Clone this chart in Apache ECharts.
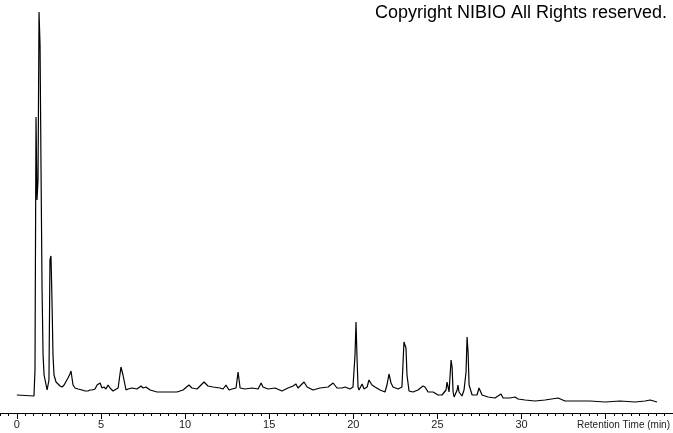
<!DOCTYPE html>
<html>
<head>
<meta charset="utf-8">
<script src="https://cdn.jsdelivr.net/npm/echarts@6/dist/echarts.min.js"></script>
<style>
html,body{margin:0;padding:0;background:#fff;}
#chart{width:673px;height:433px;}
</style>
</head>
<body>
<div id="chart"></div>
<script>
// Retention time (min)
var retentionTime = [0.0,1.02,1.08,1.14,1.20,1.26,1.32,1.38,1.44,1.50,1.56,1.62,1.74,1.80,1.85,1.91,1.97,2.03,2.09,2.15,2.21,2.33,2.45,2.57,2.69,2.81,2.92,3.04,3.16,3.22,3.28,3.34,3.46,3.64,3.88,4.06,4.23,4.35,4.47,4.65,4.77,4.95,5.06,5.18,5.30,5.42,5.54,5.72,6.02,6.19,6.31,6.37,6.49,6.61,6.85,7.14,7.38,7.50,7.68,7.92,8.33,8.69,9.52,9.88,10.23,10.41,10.71,11.13,11.36,11.66,12.08,12.26,12.43,12.61,12.79,13.03,13.15,13.27,13.56,13.98,14.34,14.52,14.63,14.93,15.35,15.76,16.12,16.42,16.59,16.71,17.07,17.25,17.61,18.02,18.50,18.80,19.03,19.33,19.51,19.80,19.98,20.10,20.16,20.22,20.28,20.34,20.52,20.64,20.82,20.93,21.11,21.29,21.59,21.88,22.00,22.12,22.24,22.36,22.66,22.89,23.01,23.13,23.19,23.31,23.55,23.84,24.14,24.26,24.44,24.74,25.04,25.27,25.51,25.57,25.69,25.81,25.87,25.93,25.99,26.17,26.22,26.28,26.46,26.58,26.70,26.76,26.82,26.88,27.06,27.35,27.47,27.65,28.01,28.42,28.78,28.90,29.31,29.61,29.79,30.21,30.80,31.39,32.17,32.58,33.18,34.07,34.97,35.85,36.75,37.34,37.64,38.05];
// Detector response (arbitrary units)
var intensity = [18,17,43,296,213,233,401,368,241,123,58,38,28,23,25,33,153,157,113,58,38,31,29,27,26,28,26,35,39,42,40,28,25,24,23,22,22,23,23,24,28,30,25,26,24,28,25,22,25,46,38,33,23,24,25,24,27,25,26,23,21,21,21,23,28,25,24,31,27,26,25,24,28,23,24,25,41,25,24,25,24,30,26,24,25,22,25,27,29,25,31,26,23,25,26,30,25,25,26,24,26,58,91,55,26,23,29,24,26,33,28,26,23,21,28,39,30,26,24,26,71,65,38,22,21,23,27,26,21,21,18,18,23,31,21,53,46,21,16,23,28,21,17,23,41,76,61,28,18,18,25,18,16,15,19,15,15,16,14,13,12,13,15,12,12,12,11,12,11,12,13,11];
var majorTicks = [0,5,10,15,20,25,30,35];
var tickLabels = [0,5,10,15,20,25,30];
var minorTicks = [];
for (var m = -1; m <= 39; m += 0.5) { if (m % 5 !== 0) minorTicks.push(m); }

var seriesData = retentionTime.map(function(t, i){ return [t, intensity[i]]; });

var chart = echarts.init(document.getElementById('chart'), null, {renderer:'canvas'});
chart.setOption({
  backgroundColor: '#ffffff',
  animation: false,
  grid: {left: 0, right: 0, top: 0, bottom: 20},
  xAxis: [{
    type: 'value', min: -1, max: 39,
    axisLine: {show: true, lineStyle: {color: '#000', width: 1}},
    axisTick: {show: true, customValues: majorTicks, length: 6, lineStyle: {color: '#000'}},
    axisLabel: {show: true, customValues: tickLabels, margin: 6, color: '#222', fontSize: 11, fontFamily: 'Liberation Sans, Arial, sans-serif'},
    splitLine: {show: false}
  }, {
    type: 'value', min: -1, max: 39, position: 'bottom',
    axisLine: {show: false},
    axisTick: {show: true, customValues: minorTicks, length: 3, lineStyle: {color: '#000'}},
    axisLabel: {show: false},
    splitLine: {show: false}
  }],
  yAxis: {type: 'value', min: 0, max: 413, show: false, splitLine: {show: false}},
  graphic: [
    {type: 'text', right: 6, top: 4, style: {text: 'Copyright NIBIO All Rights reserved.', fill: '#000', font: '18px "Liberation Sans", Arial, sans-serif'}},
    {type: 'text', right: 3, top: 420, style: {text: 'Retention Time (min)', fill: '#222', font: '10px "Liberation Sans", Arial, sans-serif'}}
  ],
  series: [{
    type: 'line', xAxisIndex: 0, data: seriesData, showSymbol: false, smooth: false,
    lineStyle: {color: '#000', width: 1.2}
  }]
});
</script>
</body>
</html>
